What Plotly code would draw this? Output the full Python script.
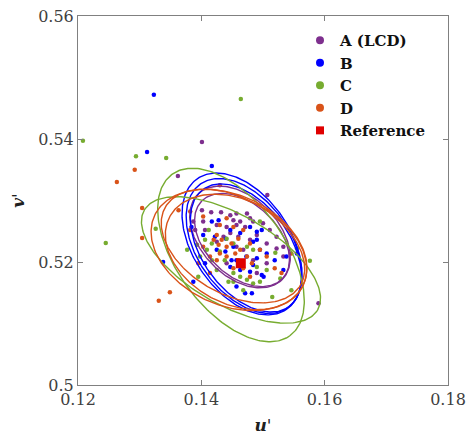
import numpy as np
import plotly.graph_objects as go

# ---------------- data (u', v') ----------------
A_u = [0.1401, 0.1362, 0.1507, 0.1401, 0.1416, 0.1432, 0.1447, 0.1457, 0.1452, 0.1474, 0.1479, 0.1463, 0.1403, 0.1387,
       0.1390, 0.1406, 0.1425, 0.1441, 0.1457, 0.1471, 0.1484, 0.1500, 0.1511, 0.1522, 0.1522, 0.1533, 0.1506, 0.1490,
       0.1479, 0.1460, 0.1447, 0.1436, 0.1425, 0.1457, 0.1468, 0.1484, 0.1506, 0.1533, 0.1490, 0.1441, 0.1590]
A_v = [0.5395, 0.5340, 0.5309, 0.5284, 0.5281, 0.5281, 0.5276, 0.5279, 0.5268, 0.5279, 0.5271, 0.5266, 0.5266, 0.5266,
       0.5252, 0.5252, 0.5260, 0.5257, 0.5260, 0.5257, 0.5266, 0.5263, 0.5252, 0.5241, 0.5222, 0.5225, 0.5230, 0.5244,
       0.5236, 0.5241, 0.5247, 0.5241, 0.5233, 0.5225, 0.5220, 0.5203, 0.5198, 0.5209, 0.5182, 0.5198, 0.5133]

B_u = [0.1323, 0.1312, 0.1417, 0.1417, 0.1428, 0.1384, 0.1403, 0.1422, 0.1447, 0.1463, 0.1479, 0.1490, 0.1498, 0.1484,
       0.1490, 0.1495, 0.1506, 0.1490, 0.1473, 0.1449, 0.1447, 0.1463, 0.1479, 0.1498, 0.1484, 0.1519, 0.1538, 0.1555,
       0.1425, 0.1406, 0.1338, 0.1387, 0.1457, 0.1471, 0.1482, 0.1501, 0.1533, 0.1440, 0.1457, 0.1439, 0.1452]
B_v = [0.5472, 0.5379, 0.5356, 0.5266, 0.5268, 0.5257, 0.5244, 0.5241, 0.5252, 0.5247, 0.5257, 0.5249, 0.5252, 0.5233,
       0.5236, 0.5220, 0.5214, 0.5206, 0.5209, 0.5203, 0.5192, 0.5187, 0.5184, 0.5179, 0.5195, 0.5203, 0.5209, 0.5214,
       0.5220, 0.5198, 0.5200, 0.5168, 0.5160, 0.5149, 0.5149, 0.5176, 0.5187, 0.5238, 0.5203, 0.5217, 0.5225]

C_u = [0.1464, 0.1208, 0.1294, 0.1343, 0.1326, 0.1245, 0.1576, 0.1515, 0.1395, 0.1406, 0.1417, 0.1441, 0.1452, 0.1474,
       0.1484, 0.1430, 0.1417, 0.1438, 0.1452, 0.1463, 0.1474, 0.1484, 0.1495, 0.1506, 0.1528, 0.1520, 0.1546, 0.1555,
       0.1452, 0.1444, 0.1425, 0.1468, 0.1495, 0.1412, 0.1393, 0.1460, 0.1490, 0.1398, 0.1377, 0.1409]
C_v = [0.5465, 0.5397, 0.5372, 0.5369, 0.5254, 0.5231, 0.5202, 0.5143, 0.5176, 0.5236, 0.5230, 0.5238, 0.5230, 0.5225,
       0.5220, 0.5217, 0.5203, 0.5203, 0.5182, 0.5176, 0.5171, 0.5165, 0.5168, 0.5187, 0.5173, 0.5215, 0.5154, 0.5222,
       0.5168, 0.5168, 0.5187, 0.5154, 0.5266, 0.5252, 0.5228, 0.5203, 0.5192, 0.5209, 0.5220, 0.5220]

D_u = [0.1292, 0.1263, 0.1304, 0.1304, 0.1349, 0.1331, 0.1430, 0.1363, 0.1382, 0.1403, 0.1441, 0.1430, 0.1452, 0.1468,
       0.1433, 0.1449, 0.1430, 0.1441, 0.1425, 0.1463, 0.1479, 0.1495, 0.1506, 0.1519, 0.1482, 0.1452, 0.1468, 0.1414,
       0.1395, 0.1425, 0.1420, 0.1403, 0.1455, 0.1474, 0.1479, 0.1530, 0.1546, 0.1382, 0.1441, 0.1460, 0.1414, 0.1428]
D_v = [0.5350, 0.5330, 0.5288, 0.5239, 0.5151, 0.5137, 0.5325, 0.5284, 0.5282, 0.5274, 0.5271, 0.5260, 0.5257, 0.5252,
       0.5236, 0.5230, 0.5214, 0.5209, 0.5203, 0.5220, 0.5230, 0.5220, 0.5209, 0.5190, 0.5198, 0.5190, 0.5190, 0.5209,
       0.5198, 0.5244, 0.5236, 0.5225, 0.5214, 0.5209, 0.5176, 0.5182, 0.5214, 0.5252, 0.5225, 0.5238, 0.5182, 0.5228]

REF_u = [0.1464]
REF_v = [0.5198]

# ellipse parameters: centre u, centre v, semi-major, semi-minor, angle (deg)
A_ell_cu = [0.14627, 0.14659]
A_ell_cv = [0.52407, 0.52358]
A_ell_a = [0.00974, 0.00909]
A_ell_b = [0.00633, 0.00584]
A_ell_ang = [-46, -44]

B_ell_cu = [0.14692, 0.14724, 0.14659]
B_ell_cv = [0.52260, 0.52228, 0.52293]
B_ell_a = [0.01230, 0.01180, 0.01285]
B_ell_b = [0.00755, 0.00710, 0.00790]
B_ell_ang = [-55, -54, -56]

C_ell_cu = [0.14481, 0.14481]
C_ell_cv = [0.52114, 0.52033]
C_ell_a = [0.01623, 0.01623]
C_ell_b = [0.00877, 0.00730]
C_ell_ang = [-54, -30]

D_ell_cu = [0.14449, 0.14562, 0.14513]
D_ell_cv = [0.52195, 0.52163, 0.52260]
D_ell_a = [0.01331, 0.01218, 0.01266]
D_ell_b = [0.00893, 0.00844, 0.00779]
D_ell_ang = [-25, -28, -30]

names = ["A (LCD)", "B", "C", "D"]
colors = ["#7E2F8E", "#0000FF", "#77AC30", "#D95319"]
series = [
    (A_u, A_v, A_ell_cu, A_ell_cv, A_ell_a, A_ell_b, A_ell_ang),
    (B_u, B_v, B_ell_cu, B_ell_cv, B_ell_a, B_ell_b, B_ell_ang),
    (C_u, C_v, C_ell_cu, C_ell_cv, C_ell_a, C_ell_b, C_ell_ang),
    (D_u, D_v, D_ell_cu, D_ell_cv, D_ell_a, D_ell_b, D_ell_ang),
]

fig = go.Figure()

for (u, v, *_), col in zip(series, colors):
    fig.add_trace(go.Scatter(x=u, y=v, mode="markers", showlegend=False,
                             marker=dict(color=col, size=4.5, line=dict(width=0))))

t = np.linspace(0, 2 * np.pi, 240)
for (u, v, cu, cv, aa, bb, ang), col in zip(series, colors):
    for c_u, c_v, a, b, g in zip(cu, cv, aa, bb, ang):
        th = np.deg2rad(g)
        ex = c_u + a * np.cos(th) * np.cos(t) - b * np.sin(th) * np.sin(t)
        ey = c_v + a * np.sin(th) * np.cos(t) + b * np.cos(th) * np.sin(t)
        fig.add_trace(go.Scatter(x=ex, y=ey, mode="lines", showlegend=False,
                                 line=dict(color=col, width=1.4)))

fig.add_trace(go.Scatter(x=REF_u, y=REF_v, mode="markers", showlegend=False,
                         marker=dict(color="#E00000", size=10, symbol="square")))

# legend entries
for name, col in zip(names, colors):
    fig.add_trace(go.Scatter(x=[None], y=[None], mode="markers", name=name,
                             marker=dict(color=col, size=8)))
fig.add_trace(go.Scatter(x=[None], y=[None], mode="markers", name="Reference",
                         marker=dict(color="#E00000", size=8, symbol="square")))

axis_common = dict(showgrid=False, zeroline=False, showline=True, linecolor="#808080", linewidth=1,
                   mirror="ticks", ticks="inside", ticklen=5, tickcolor="#808080", automargin=False,
                   ticklabeloverflow="allow",
                   tickfont=dict(family="DejaVu Serif", size=16, color="#404040"))

fig.update_layout(
    width=467, height=435,
    margin=dict(l=78, r=19, t=16, b=50),
    paper_bgcolor="white", plot_bgcolor="white",
    xaxis=dict(range=[0.12, 0.18], tickvals=[0.12, 0.14, 0.16, 0.18],
               ticktext=["0.12", "0.14", "0.16", "0.18"],
               title=dict(text="<b><i>u</i></b>'", standoff=12,
                          font=dict(family="DejaVu Serif", size=17, color="#202020")),
               **axis_common),
    yaxis=dict(range=[0.5, 0.56], tickvals=[0.5, 0.52, 0.54, 0.56],
               ticktext=["0.5", "0.52", "0.54", "0.56"],
               title=dict(text="<b><i>v</i></b>'", standoff=9,
                          font=dict(family="DejaVu Serif", size=17, color="#202020")),
               **axis_common),
    legend=dict(x=0.6, y=0.978, xanchor="left", yanchor="top", bgcolor="rgba(0,0,0,0)",
                font=dict(family="DejaVu Serif", size=15, color="#101010", weight="bold"),
                tracegroupgap=0),
    showlegend=True,
)

fig.write_html("out.html", config={"displayModeBar": False},
               post_script="document.body.style.margin='0';document.body.style.padding='0';")
